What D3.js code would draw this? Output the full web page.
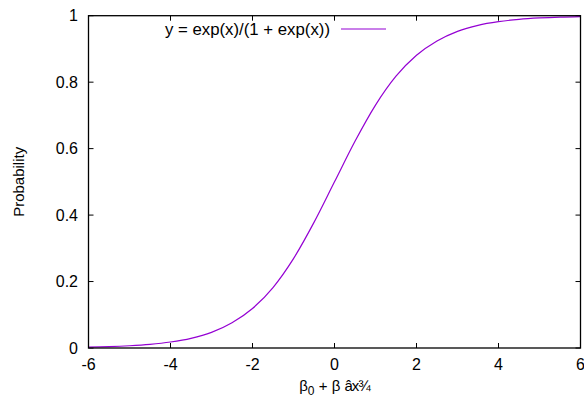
<!DOCTYPE html>
<html>
<head>
<meta charset="utf-8">
<script src="https://cdn.jsdelivr.net/npm/d3@7"></script>
<style>
    body { margin: 0; background: #fff; }
    svg text { font-family: "Liberation Sans", Arial, sans-serif; fill: #000; }
</style>
</head>
<body>
<div id="chart"></div>
<script>
    // values
    const xs = [-6, -5.5, -5, -4.5, -4, -3.5, -3, -2.5, -2, -1.5, -1, -0.5, 0,
                0.5, 1, 1.5, 2, 2.5, 3, 3.5, 4, 4.5, 5, 5.5, 6];
    const ys = [0.0025, 0.004, 0.0067, 0.011, 0.018, 0.029, 0.047, 0.076, 0.119, 0.182, 0.269, 0.378, 0.5,
                0.622, 0.731, 0.818, 0.881, 0.924, 0.953, 0.971, 0.982, 0.989, 0.9933, 0.996, 0.9975];
    const xTicks = [-6, -4, -2, 0, 2, 4, 6];
    const yTicks = [0, 0.2, 0.4, 0.6, 0.8, 1];
    const legendLabel = "y = exp(x)/(1 + exp(x))";

    const W = 584, H = 403;
    const m = { left: 88.5, right: 3.5, top: 15.7, bottom: 55 };
    const fs = 16;

    const svg = d3.select("#chart").append("svg")
        .attr("width", W).attr("height", H);

    const x = d3.scaleLinear().domain([-6, 6]).range([m.left, W - m.right]);
    const y = d3.scaleLinear().domain([0, 1]).range([H - m.bottom, m.top]);

    const tickLen = 5;
    const g = svg.append("g");

    // ticks, mirrored on all sides, pointing in
    xTicks.forEach(t => {
        g.append("line").attr("x1", x(t)).attr("x2", x(t))
            .attr("y1", y(0)).attr("y2", y(0) - tickLen)
            .attr("stroke", "#000").attr("stroke-width", 1);
        g.append("line").attr("x1", x(t)).attr("x2", x(t))
            .attr("y1", y(1)).attr("y2", y(1) + tickLen)
            .attr("stroke", "#000").attr("stroke-width", 1);
        g.append("text").attr("x", x(t)).attr("y", y(0) + 22)
            .attr("text-anchor", "middle").attr("font-size", fs).text(t);
    });
    yTicks.forEach(t => {
        g.append("line").attr("x1", x(-6)).attr("x2", x(-6) + tickLen)
            .attr("y1", y(t)).attr("y2", y(t))
            .attr("stroke", "#000").attr("stroke-width", 1);
        g.append("line").attr("x1", x(6)).attr("x2", x(6) - tickLen)
            .attr("y1", y(t)).attr("y2", y(t))
            .attr("stroke", "#000").attr("stroke-width", 1);
        g.append("text").attr("x", 78).attr("y", y(t)).attr("dy", "0.35em")
            .attr("text-anchor", "end").attr("font-size", fs).text(t);
    });

    // curve
    const pts = xs.map((v, i) => [v, ys[i]]);
    svg.append("path").datum(pts)
        .attr("fill", "none").attr("stroke", "#9400d3").attr("stroke-width", 1.2)
        .attr("d", d3.line().x(d => x(d[0])).y(d => y(d[1])).curve(d3.curveMonotoneX));

    // border
    svg.append("rect")
        .attr("x", x(-6)).attr("y", y(1))
        .attr("width", x(6) - x(-6)).attr("height", y(0) - y(1))
        .attr("fill", "none").attr("stroke", "#000").attr("stroke-width", 1.3);

    // legend
    svg.append("text").attr("x", 330).attr("y", 29).attr("dy", "0.35em")
        .attr("text-anchor", "end").attr("font-size", fs + 0.8).text(legendLabel);
    svg.append("line").attr("x1", 341).attr("x2", 386).attr("y1", 29).attr("y2", 29)
        .attr("stroke", "#9400d3").attr("stroke-width", 1.2);

    // axis labels
    svg.append("text")
        .attr("transform", "translate(24," + ((y(0) + y(1)) / 2) + ") rotate(-90)")
        .attr("text-anchor", "middle").attr("font-size", 15).text("Probability");

    const xl = svg.append("text").attr("x", x(0)).attr("y", 391)
        .attr("text-anchor", "middle").attr("font-size", 15);
    xl.append("tspan").text("β");
    xl.append("tspan").attr("dy", 4).attr("font-size", 12).text("0");
    xl.append("tspan").attr("dy", -4).text(" + β ");
    xl.append("tspan").attr("letter-spacing", -1).text("âx¾");
</script>
</body>
</html>
